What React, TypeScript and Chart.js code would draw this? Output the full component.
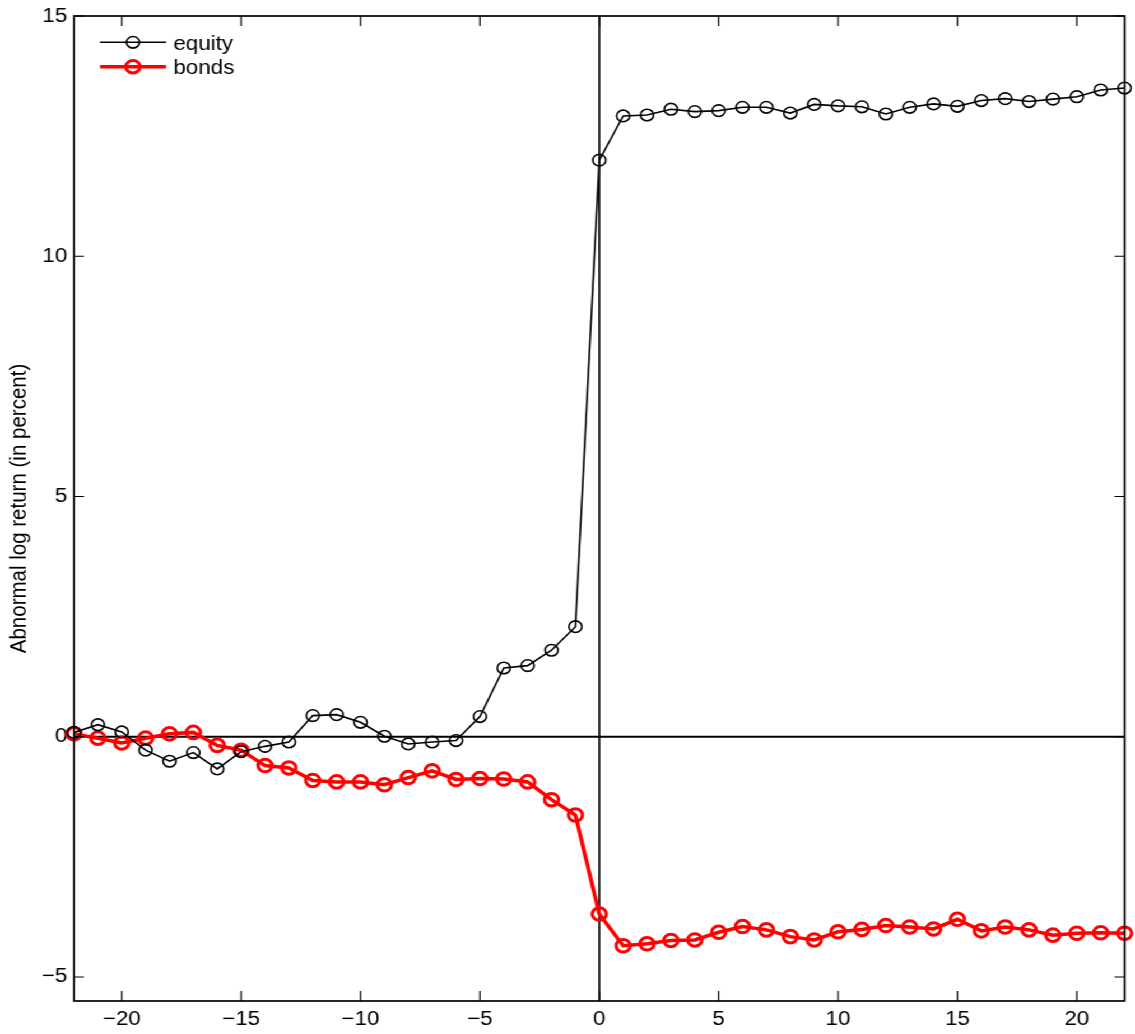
import React, { useEffect, useRef } from "react";
import { Chart, registerables } from "chart.js";

Chart.register(...registerables);

// ---- data ----
const days: number[] = [
  -22, -21, -20, -19, -18, -17, -16, -15, -14, -13, -12, -11, -10, -9, -8, -7, -6, -5, -4, -3, -2, -1,
  0, 1, 2, 3, 4, 5, 6, 7, 8, 9, 10, 11, 12, 13, 14, 15, 16, 17, 18, 19, 20, 21, 22,
];
const equity: number[] = [
  0.09, 0.25, 0.1, -0.28, -0.51, -0.33, -0.67, -0.31, -0.2, -0.11, 0.44, 0.46, 0.3, 0.01, -0.15, -0.11, -0.08,
  0.42, 1.43, 1.48, 1.8, 2.29,
  12.0, 12.92, 12.94, 13.06, 13.01, 13.03, 13.1, 13.1, 12.98, 13.16, 13.13, 13.11, 12.96, 13.1, 13.17, 13.12,
  13.24, 13.28, 13.22, 13.27, 13.32, 13.46, 13.5,
];
const bonds: number[] = [
  0.06, -0.03, -0.13, -0.03, 0.06, 0.09, -0.18, -0.28, -0.6, -0.65, -0.91, -0.94, -0.94, -1.0, -0.85, -0.71, -0.89,
  -0.87, -0.88, -0.94, -1.31, -1.63,
  -3.69, -4.35, -4.31, -4.24, -4.23, -4.07, -3.95, -4.02, -4.16, -4.23, -4.06, -4.01, -3.93, -3.96, -4.0, -3.8,
  -4.04, -3.96, -4.02, -4.13, -4.09, -4.08, -4.09,
];
const xTicks: number[] = [-20, -15, -10, -5, 0, 5, 10, 15, 20];
const yTicks: number[] = [-5, 0, 5, 10, 15];
const seriesNames: string[] = ["equity", "bonds"];
const yTitle = "Abnormal log return (in percent)";

const FONT = "'Liberation Sans', Arial, Helvetica, sans-serif";
const CW = 1013;
const CH = 1034;
const SX = 1135 / CW;

const fmt = (v: number) => (v < 0 ? "\u2212" + Math.abs(v) : String(v));

const framePlugin = {
  id: "frame",
  beforeDatasetsDraw(chart: any) {
    const { ctx, chartArea: a, scales } = chart;
    const x0 = scales.x.getPixelForValue(0);
    const y0 = scales.y.getPixelForValue(0);
    ctx.save();
    ctx.strokeStyle = "#000";
    ctx.lineWidth = 1.9;
    ctx.beginPath();
    ctx.moveTo(a.left, y0);
    ctx.lineTo(a.right, y0);
    ctx.stroke();
    ctx.lineWidth = 1.7;
    ctx.beginPath();
    ctx.moveTo(x0, a.top);
    ctx.lineTo(x0, a.bottom);
    ctx.stroke();
    ctx.restore();
  },
  afterDraw(chart: any) {
    const { ctx, chartArea: a, scales } = chart;
    ctx.save();
    ctx.strokeStyle = "#000";
    ctx.lineWidth = 1.7;
    ctx.strokeRect(a.left, a.top, a.right - a.left, a.bottom - a.top);
    ctx.lineWidth = 1.2;
    ctx.beginPath();
    xTicks.forEach((v) => {
      const px = scales.x.getPixelForValue(v);
      ctx.moveTo(px, a.bottom);
      ctx.lineTo(px, a.bottom - 10);
      ctx.moveTo(px, a.top);
      ctx.lineTo(px, a.top + 10);
    });
    yTicks.forEach((v) => {
      const py = scales.y.getPixelForValue(v);
      ctx.moveTo(a.left, py);
      ctx.lineTo(a.left + 9, py);
      ctx.moveTo(a.right, py);
      ctx.lineTo(a.right - 9, py);
    });
    ctx.stroke();

    // legend
    const items = [
      { name: seriesNames[0], color: "#000", lw: 1.6, r: 5.8, bw: 1.6, y: 42.3, base: 49.5 },
      { name: seriesNames[1], color: "#ff0000", lw: 3.5, r: 6.3, bw: 3, y: 66.7, base: 74 },
    ];
    items.forEach((it) => {
      ctx.strokeStyle = it.color;
      ctx.lineWidth = it.lw;
      ctx.beginPath();
      ctx.moveTo(89.3, it.y);
      ctx.lineTo(148.2, it.y);
      ctx.stroke();
      ctx.lineWidth = it.bw;
      ctx.beginPath();
      ctx.arc(118.7, it.y, it.r, 0, Math.PI * 2);
      ctx.stroke();
      ctx.fillStyle = "#000";
      ctx.font = `20px ${FONT}`;
      ctx.textAlign = "left";
      ctx.textBaseline = "alphabetic";
      ctx.fillText(it.name, 154.7, it.base);
    });
    ctx.restore();
  },
};

export default function App() {
  const ref = useRef<HTMLCanvasElement | null>(null);

  useEffect(() => {
    if (!ref.current) return;
    const chart = new Chart(ref.current, {
      type: "line",
      data: {
        datasets: [
          {
            label: seriesNames[0],
            data: days.map((d, i) => ({ x: d, y: equity[i] })),
            borderColor: "#000",
            borderWidth: 1.6,
            pointRadius: 5.8,
            pointBorderWidth: 1.6,
            pointBorderColor: "#000",
            pointBackgroundColor: "rgba(0,0,0,0)",
            pointHoverRadius: 5.8,
            tension: 0,
            clip: false as any,
          },
          {
            label: seriesNames[1],
            data: days.map((d, i) => ({ x: d, y: bonds[i] })),
            borderColor: "#ff0000",
            borderWidth: 3.5,
            pointRadius: 6.3,
            pointBorderWidth: 3,
            pointBorderColor: "#ff0000",
            pointBackgroundColor: "rgba(0,0,0,0)",
            pointHoverRadius: 6.3,
            tension: 0,
            clip: false as any,
          },
        ],
      },
      options: {
        animation: false,
        responsive: false,
        devicePixelRatio: 1,
        layout: { padding: { top: 16, right: CW - 1130 / SX, left: 0, bottom: 0 } },
        plugins: { legend: { display: false }, tooltip: { enabled: false } },
        events: [],
        scales: {
          x: {
            type: "linear",
            min: -22,
            max: 22,
            grid: { display: false, drawTicks: false },
            border: { display: false },
            afterBuildTicks: (s: any) => {
              s.ticks = xTicks.map((v) => ({ value: v }));
            },
            afterFit: (s: any) => {
              s.height = CH - 1001;
              s.paddingLeft = 0;
              s.paddingRight = 0;
            },
            ticks: {
              padding: 6,
              color: "#000",
              maxRotation: 0,
              font: { family: FONT, size: 20 },
              callback: (v: any) => fmt(Number(v)),
            },
          },
          y: {
            type: "linear",
            min: -5.5,
            max: 15,
            grid: { display: false, drawTicks: false },
            border: { display: false },
            afterBuildTicks: (s: any) => {
              s.ticks = yTicks.map((v) => ({ value: v }));
            },
            afterFit: (s: any) => {
              s.width = 74 / SX;
              s.paddingTop = 0;
              s.paddingBottom = 0;
            },
            ticks: {
              padding: 6,
              color: "#000",
              font: { family: FONT, size: 20 },
              callback: (v: any) => fmt(Number(v)),
            },
            title: {
              display: true,
              text: yTitle,
              color: "#000",
              font: { family: FONT, size: 20.5 },
              padding: { top: 5, bottom: 0 },
            },
          },
        },
      },
      plugins: [framePlugin],
    });
    return () => chart.destroy();
  }, []);

  return (
    <div
      style={{
        position: "fixed",
        left: 0,
        top: 0,
        width: CW,
        height: CH,
        transform: `scaleX(${SX})`,
        transformOrigin: "0 0",
        background: "#fff",
      }}
    >
      <canvas ref={ref} width={CW} height={CH} style={{ width: CW, height: CH, display: "block" }} />
    </div>
  );
}
